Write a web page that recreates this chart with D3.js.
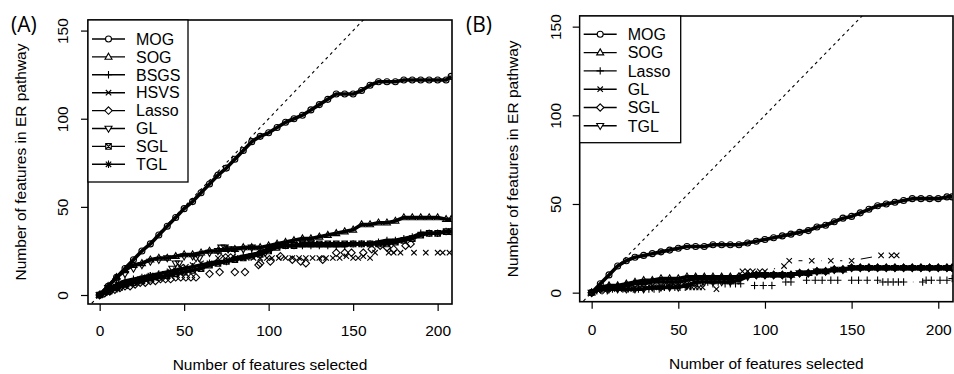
<!DOCTYPE html>
<html>
<head>
<meta charset="utf-8">
<script src="https://cdn.jsdelivr.net/npm/d3@7"></script>
<style>
  body { margin: 0; background: #fff; }
  svg text { font-family: "Liberation Sans", Arial, Helvetica, sans-serif; fill: #000; }
</style>
</head>
<body>
<svg id="chart" width="954" height="374"></svg>
<script>
// x positions (number of features selected) used by the dense curves
const stepX = [0,5,10,15,20,25,30,35,40,45,50,55,60,65,70,75,80,85,90,95,100,105,110,115,120,125,130,135,140,145,150,155,160,165,170,175,180,185,190,195,200,205,208];

// ---- panel (A) ----
const mogA  = [0,5,10,15,20,25,29,34,39,44,49,53,58,63,68,72,77,82,87,90,92,95,98,100,102,105,108,111,114,114,114,116,119,121,121,121,122,122,122,122,122,122,124];
const sogA  = [0,5,10,14,17,18,20,21,21,22,23,23,24,25,25,26,26,27,27,27,28,29,30,31,32,32,33,34,35,36,37,40,40,41,41,42,44,44,44,44,44,43,43];
const bsgsA = [0,3,6,8,9,10,11,12,13,14,15,16,17,18,19,19,21,22,23,24,26,28,28,28,28,28,28,28,28,28,29,29,29,30,31,31,32,33,35,35,35,36,36];
const sglA  = [0,2,4,6,7,8,9,10,11,12,13,14,15,17,18,19,20,21,22,23,25,27,28,28,29,29,29,29,29,29,29,29,29,29,29,30,31,32,34,35,35,36,36];
const hsvsAX = [0,3,6,9,12,15,18,21,24,27,30,33,36,39,42,45,48,51,55,60,65,70,73,76,79,83,87,91,95,99,102,106,110,114,118,122,126,130,134,138,142,146,150,153,156,160,163,171,174,178,186,193,200,203,207];
const hsvsAY = [0,1,2,3,4,5,6,7,8,9,10,11,12,12,13,14,16,16,17,18,18,21,22,22,22,21,21,21,21,21,21,21,21,21,21,21,21,21,21,21,21,22,21,21,22,21,24,24,24,24,24,24,24,24,24];
const lassoAX = [0,3,6,9,12,15,18,21,24,27,30,33,36,39,42,45,48,51,54,57,65,71,80,86,94,95,101,107,114,119,122,132,140,145,149,156,161,166,170,174,181,184];
const lassoAY = [0,1,2,3,4,5,5,6,7,7,8,8,9,9,9,10,10,10,10,10,12,13,13,13,17,18,19,22,20,19,18,20,24,24,24,24,26,28,27,26,28,29];
const glAX = [0,5,10,15,20,25,30,35,40,43,45,47,50,55,57,59,65,70,72,74,76,80,85,90,96,98];
const glAY = [0,4,8,12,15,17,19,20,21,15,18,18,22,22,21,21,24,25,27,27,26,26,26,27,24,24];
const tglAX = [0,2,4,6,8,10,12,14,16,18,20,22,24,26,28,30];
const tglAY = [0,1,2,3,4,4,5,6,6,7,8,8,9,9,10,11];

// ---- panel (B) ----
const mogB  = [0,5,10,15,18,20,21,22,23,24,25,26,26,26,27,27,27,27,28,29,30,31,32,33,34,35,37,38,40,42,43,45,47,49,50,51,52,53,53,53,53,54,54];
const sogB  = [0,3,4,4,5,6,7,7,8,8,8,9,9,9,9,9,9,9,10,10,10,10,10,10,11,11,12,12,13,13,14,14,14,14,14,14,14,14,14,14,14,14,14];
const sglB  = [0,2,3,3,4,5,5,6,6,6,6,7,8,8,8,8,8,9,10,10,10,10,10,10,11,11,12,12,13,13,14,14,14,14,14,14,14,14,14,14,14,14,14];
const tglB  = [0,2,2,2,2,2,2,3,3,3,3,4,6,6,6,6,6,7,9,10,10,10,10,10,11,11,12,12,13,13,14,14,14,14,14,14,14,14,14,14,14,14,14];
const lassoBX = [0,3,6,9,12,15,18,21,24,27,30,33,36,39,42,45,48,51,54,57,61,64,67,70,73,77,80,83,86,94,99,104,112,115,124,129,133,138,142,150,154,159,165,168,171,174,177,180,191,193,196,201,205,208];
const lassoBY = [0,1,1,1,2,2,2,2,2,2,2,2,2,2,3,3,3,3,3,4,5,6,6,5,6,5,5,5,5,4,4,4,6,6,7,7,7,7,7,7,7,7,7,6,6,6,6,6,6,7,7,7,7,8];
const glBX = [0,4,8,12,16,20,24,28,32,36,40,44,47,50,53,56,58,60,62,64,72,87,90,93,97,100,111,114,127,138,150,167,173,176];
const glBY = [0,1,1,2,2,2,2,3,3,3,3,4,5,5,5,3,3,3,3,3,2,12,12,12,12,12,15,18,18,18,18,21,21,21];

const xTicks = [0, 50, 100, 150, 200];
const yTicks = [0, 50, 100, 150];

const svg = d3.select("#chart");

// R style plotting symbols
function symbolPath(pch) {
  switch (pch) {
    case "circle":  return "M3,0A3,3 0 1,1 -3,0A3,3 0 1,1 3,0Z";
    case "triUp":   return "M0,-3.7L3.5,2.3L-3.5,2.3Z";
    case "triDown": return "M0,3.7L3.5,-2.3L-3.5,-2.3Z";
    case "plus":    return "M-3.7,0H3.7M0,-3.7V3.7";
    case "cross":   return "M-2.7,-2.7L2.7,2.7M-2.7,2.7L2.7,-2.7";
    case "diamond": return "M0,-3.7L3.7,0L0,3.7L-3.7,0Z";
    case "squareX": return "M-2.8,-2.8H2.8V2.8H-2.8ZM-2.8,-2.8L2.8,2.8M-2.8,2.8L2.8,-2.8";
    case "star":    return "M-3.7,0H3.7M0,-3.7V3.7M-2.7,-2.7L2.7,2.7M-2.7,2.7L2.7,-2.7";
  }
}

function drawPanel(p) {
  const x = d3.scaleLinear().domain([-6.9, 208.5]).range([p.left, p.right]);
  const y = d3.scaleLinear().domain([-5.1, 156]).range([p.bottom, p.top]);
  const g = svg.append("g");

  const clipId = "clip" + p.tag;
  svg.append("clipPath").attr("id", clipId)
    .append("rect")
    .attr("x", p.left).attr("y", p.top)
    .attr("width", p.right - p.left).attr("height", p.bottom - p.top);

  const plot = g.append("g").attr("clip-path", `url(#${clipId})`);

  // y = x reference
  plot.append("line")
    .attr("x1", x(-10)).attr("y1", y(-10))
    .attr("x2", x(210)).attr("y2", y(210))
    .attr("stroke", "#000").attr("stroke-width", 1.1)
    .attr("stroke-dasharray", "3,3.5");

  p.series.forEach(s => {
    const pts = s.x.map((v, i) => [x(v), y(s.y[i])]);
    if (s.dense) {
      plot.append("path")
        .attr("d", d3.line()(pts))
        .attr("fill", "none").attr("stroke", "#000")
        .attr("stroke-width", 3.6).attr("stroke-linejoin", "round");
    } else {
      // type = "b": lines with gaps around the points
      const gap = 9.3;
      for (let i = 1; i < pts.length; i++) {
        const [x1, y1] = pts[i - 1], [x2, y2] = pts[i];
        const d = Math.hypot(x2 - x1, y2 - y1);
        if (d <= 2 * gap) continue;
        const ux = (x2 - x1) / d, uy = (y2 - y1) / d;
        plot.append("line")
          .attr("x1", x1 + ux * gap).attr("y1", y1 + uy * gap)
          .attr("x2", x2 - ux * gap).attr("y2", y2 - uy * gap)
          .attr("stroke", "#000").attr("stroke-width", 1);
      }
    }
    plot.selectAll(null).data(pts).join("path")
      .attr("transform", d => `translate(${d[0]},${d[1]})`)
      .attr("d", symbolPath(s.pch))
      .attr("fill", "none").attr("stroke", "#000").attr("stroke-width", 1.1);
  });

  // axes
  const xa = g.append("g").attr("transform", `translate(0,${p.bottom})`)
    .call(d3.axisBottom(x).tickValues(xTicks).tickSize(7).tickFormat(d3.format("d")));
  xa.select(".domain").remove();
  xa.selectAll(".tick line").attr("stroke-width", 1.2);
  xa.selectAll("text").attr("y", p.xLabY).attr("dy", 0)
    .style("font-size", "15.5px").style("font-family", "Liberation Sans, Arial, sans-serif");

  const ya = g.append("g").attr("transform", `translate(${p.left},0)`)
    .call(d3.axisLeft(y).tickValues(yTicks).tickSize(7).tickFormat(d3.format("d")));
  ya.select(".domain").remove();
  ya.selectAll(".tick line").attr("stroke-width", 1.2);
  ya.selectAll("text")
    .attr("x", 0).attr("dy", 0)
    .attr("transform", `translate(${p.yLabX},0) rotate(-90)`)
    .style("text-anchor", "middle")
    .style("font-size", "15.5px").style("font-family", "Liberation Sans, Arial, sans-serif");

  // frame
  g.append("rect")
    .attr("x", p.left).attr("y", p.top)
    .attr("width", p.right - p.left).attr("height", p.bottom - p.top)
    .attr("fill", "none").attr("stroke", "#000").attr("stroke-width", 1.6);

  // titles
  g.append("text")
    .attr("x", (p.left + p.right) / 2).attr("y", p.xTitleY)
    .attr("text-anchor", "middle").style("font-size", "15.5px")
    .text("Number of features selected");
  g.append("text")
    .attr("transform", `translate(${p.left - 62},${(p.top + p.bottom) / 2}) rotate(-90)`)
    .attr("text-anchor", "middle").style("font-size", "15.5px")
    .text("Number of features in ER pathway");
  g.append("text")
    .attr("x", p.tagX).attr("y", 32)
    .style("font-family", "'Open Sans', 'DejaVu Sans', sans-serif")
    .style("font-size", "21px")
    .text(`(${p.tag})`);

  // legend
  const lg = g.append("g");
  lg.append("rect")
    .attr("x", p.left).attr("y", p.top)
    .attr("width", p.legW).attr("height", p.legH)
    .attr("fill", "#fff").attr("stroke", "#000").attr("stroke-width", 1.3);
  p.series.forEach((s, i) => {
    const cy = p.legY0 + i * p.legDy;
    lg.append("line")
      .attr("x1", p.left + 4).attr("x2", p.left + 37)
      .attr("y1", cy).attr("y2", cy)
      .attr("stroke", "#000").attr("stroke-width", 1.4);
    lg.append("path")
      .attr("transform", `translate(${p.left + 20.5},${cy})`)
      .attr("d", symbolPath(s.pch))
      .attr("fill", "#fff").attr("stroke", "#000").attr("stroke-width", 1.1);
    lg.append("text")
      .attr("x", p.left + 48).attr("y", cy).attr("dy", "0.36em")
      .style("font-size", "16px")
      .text(s.name);
  });
}

drawPanel({
  tag: "A", tagX: 11,
  left: 88, right: 452, top: 20, bottom: 304,
  xLabY: 32, xTitleY: 370, yLabX: -20,
  legW: 100, legH: 162, legY0: 39, legDy: 17.9,
  series: [
    { name: "MOG",   x: stepX,   y: mogA,    pch: "circle",  dense: true },
    { name: "SOG",   x: stepX,   y: sogA,    pch: "triUp",   dense: true },
    { name: "BSGS",  x: stepX,   y: bsgsA,   pch: "plus",    dense: true },
    { name: "HSVS",  x: hsvsAX,  y: hsvsAY,  pch: "cross" },
    { name: "Lasso", x: lassoAX, y: lassoAY, pch: "diamond" },
    { name: "GL",    x: glAX,    y: glAY,    pch: "triDown" },
    { name: "SGL",   x: stepX,   y: sglA,    pch: "squareX", dense: true },
    { name: "TGL",   x: tglAX,   y: tglAY,   pch: "star" }
  ]
});

drawPanel({
  tag: "B", tagX: 466,
  left: 579.7, right: 953, top: 16, bottom: 301.7,
  xLabY: 33, xTitleY: 369, yLabX: -19,
  legW: 101, legH: 126.7, legY0: 34.3, legDy: 18.3,
  series: [
    { name: "MOG",   x: stepX,   y: mogB,    pch: "circle",  dense: true },
    { name: "SOG",   x: stepX,   y: sogB,    pch: "triUp",   dense: true },
    { name: "Lasso", x: lassoBX, y: lassoBY, pch: "plus" },
    { name: "GL",    x: glBX,    y: glBY,    pch: "cross" },
    { name: "SGL",   x: stepX,   y: sglB,    pch: "diamond", dense: true },
    { name: "TGL",   x: stepX,   y: tglB,    pch: "triDown", dense: true }
  ]
});
</script>
</body>
</html>
